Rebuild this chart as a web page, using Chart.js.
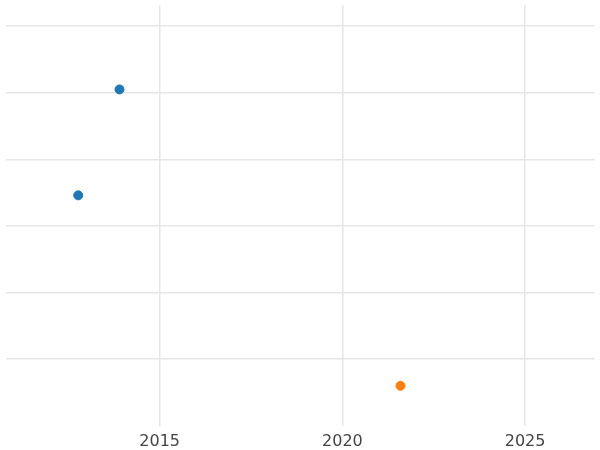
<!DOCTYPE html>
<html>
<head>
<script src="https://cdn.jsdelivr.net/npm/chart.js@4"></script>
<style>
  body { margin: 0; background: #fff; }
  #wrap { width: 600px; height: 450px; }
</style>
</head>
<body>
<div id="wrap"><canvas id="c"></canvas></div>
<script>
// Data
const seriesA = [{ x: 2013.9, y: 5.05 }, { x: 2012.77, y: 3.46 }];
const seriesB = [{ x: 2021.59, y: 0.6 }];
const xTicks = [2015, 2020, 2025];

new Chart(document.getElementById('c'), {
  type: 'scatter',
  data: {
    datasets: [
      { data: seriesA, backgroundColor: '#1f77b4', borderColor: '#1f77b4', pointRadius: 4.5 },
      { data: seriesB, backgroundColor: '#ff7f0e', borderColor: '#ff7f0e', pointRadius: 4.5 }
    ]
  },
  options: {
    responsive: true,
    maintainAspectRatio: false,
    animation: false,
    layout: { padding: { left: -6, right: -6, top: -6, bottom: -7 } },
    plugins: { legend: { display: false }, tooltip: { enabled: false } },
    scales: {
      x: {
        min: 2010.78,
        max: 2026.9,
        afterBuildTicks: axis => { axis.ticks = xTicks.map(v => ({ value: v })); },
        grid: { color: '#e6e6e6', lineWidth: 1.5, drawTicks: false },
        border: { display: false },
        ticks: { color: '#444', font: { family: 'DejaVu Sans', size: 16 }, padding: 6, callback: v => String(v) }
      },
      y: {
        min: 0,
        max: 6.31,
        afterBuildTicks: axis => { axis.ticks = [1, 2, 3, 4, 5, 6].map(v => ({ value: v })); },
        grid: { color: '#e6e6e6', lineWidth: 1.5, drawTicks: false },
        border: { display: false },
        ticks: { display: false }
      }
    }
  }
});
</script>
</body>
</html>
